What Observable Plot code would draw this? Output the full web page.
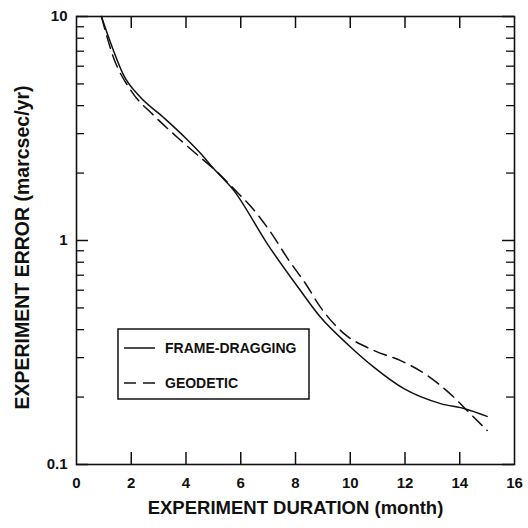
<!DOCTYPE html>
<html>
<head>
<meta charset="utf-8">
<script src="https://cdn.jsdelivr.net/npm/d3@7"></script>
<script src="https://cdn.jsdelivr.net/npm/@observablehq/plot@0.6"></script>
<style>
  html, body { margin: 0; padding: 0; background: #fff; }
  #wrap { position: relative; width: 528px; height: 528px; font-family: "Liberation Sans", Arial, Helvetica, sans-serif; }
  #legend { position: absolute; left: 117px; top: 328px; }
</style>
</head>
<body>
<div id="wrap"></div>
<script>
// Frame-dragging (solid)
const frameMonths = [0.91, 1.34, 1.71, 2.31, 3.17, 4.02, 4.53, 5.0, 5.75, 6.97, 8.18, 8.91, 9.95, 10.86, 11.96, 13.3, 14.21, 15.0];
const frameError  = [10, 7.1, 5.5, 4.39, 3.55, 2.84, 2.45, 2.1, 1.67, 0.966, 0.598, 0.455, 0.34, 0.272, 0.218, 0.187, 0.177, 0.164];
// Geodetic (dashed)
const geoMonths = [0.91, 1.34, 2.01, 2.80, 3.71, 4.63, 5.05, 5.75, 6.54, 7.09, 7.76, 8.37, 8.91, 9.71, 10.86, 11.84, 12.81, 13.3, 13.78, 14.21, 15.0];
const geoError  = [10, 6.62, 4.63, 3.64, 2.87, 2.29, 2.07, 1.70, 1.34, 1.09, 0.815, 0.641, 0.504, 0.39, 0.323, 0.291, 0.250, 0.225, 0.200, 0.177, 0.142];

const xTickValues = [0, 2, 4, 6, 8, 10, 12, 14, 16];
const xInnerTicks = [2, 4, 6, 8, 10, 12, 14];
const yMajorTicks = [0.1, 1, 10];
const yMinorTicks = [0.2, 0.3, 0.4, 0.5, 0.6, 0.7, 0.8, 0.9, 2, 3, 4, 5, 6, 7, 8, 9];

const seriesNames = ["FRAME-DRAGGING", "GEODETIC"];
const xLabel = "EXPERIMENT DURATION (month)";
const yLabel = "EXPERIMENT ERROR (marcsec/yr)";

const frameData = frameMonths.map((m, i) => ({month: m, err: frameError[i]}));
const geoData = geoMonths.map((m, i) => ({month: m, err: geoError[i]}));

const W = 528, H = 528;
const mL = 76, mR = 14, mT = 16, mB = 64;
const pw = W - mL - mR, ph = H - mT - mB;

const chart = Plot.plot({
  width: W, height: H,
  marginLeft: mL, marginRight: mR, marginTop: mT, marginBottom: mB,
  style: {fontFamily: '"Liberation Sans", Arial, Helvetica, sans-serif', fontSize: "15px", fontWeight: "bold", color: "#111", background: "#fff"},
  x: {domain: [0, 16]},
  y: {type: "log", domain: [0.1, 10]},
  marks: [
    Plot.axisX({ticks: xTickValues, tickSize: 0, tickPadding: 13, label: null, tickFormat: d => String(d), fontSize: 15}),
    Plot.axisY({ticks: yMajorTicks, tickSize: 0, tickPadding: 9, label: null, tickFormat: d => String(d), fontSize: 15}),
    // inward ticks
    Plot.tickX(xInnerTicks, {x: d => d, insetTop: ph - 12, stroke: "#111", strokeWidth: 1.5}),
    Plot.tickX(xInnerTicks, {x: d => d, insetBottom: ph - 12, stroke: "#111", strokeWidth: 1.5}),
    Plot.tickY(yMajorTicks, {y: d => d, insetRight: pw - 12, stroke: "#111", strokeWidth: 1.5}),
    Plot.tickY(yMinorTicks, {y: d => d, insetRight: pw - 8, stroke: "#111", strokeWidth: 1.3}),
    Plot.tickY(yMajorTicks, {y: d => d, insetLeft: pw - 12, stroke: "#111", strokeWidth: 1.5}),
    Plot.tickY(yMinorTicks, {y: d => d, insetLeft: pw - 8, stroke: "#111", strokeWidth: 1.3}),
    Plot.frame({stroke: "#111", strokeWidth: 1.6}),
    Plot.line(frameData, {x: "month", y: "err", curve: "monotone-x", stroke: "#111", strokeWidth: 1.5}),
    Plot.line(geoData, {x: "month", y: "err", curve: "monotone-x", stroke: "#111", strokeWidth: 1.5, strokeDasharray: "13,7"}),
    Plot.text([xLabel], {text: d => d, frameAnchor: "bottom", dy: 49, fontSize: 18.5, fontWeight: "bold", fill: "#111"}),
    Plot.text([yLabel], {text: d => d, frameAnchor: "left", textAnchor: "middle", lineAnchor: "middle", dx: -54, dy: 7, rotate: -90, fontSize: 19.5, fontWeight: "bold", fill: "#111"})
  ]
});

const wrap = document.getElementById("wrap");
wrap.appendChild(chart);

// Legend overlay
const ns = "http://www.w3.org/2000/svg";
const lg = document.createElementNS(ns, "svg");
lg.setAttribute("id", "legend");
lg.setAttribute("width", 194);
lg.setAttribute("height", 73);
const styles = [{dash: null}, {dash: "12,7"}];
lg.innerHTML = `<rect x="1" y="1" width="191" height="70" fill="#fff" stroke="#111" stroke-width="1.5"/>` +
  seriesNames.map((name, i) => {
    const y = 20 + i * 35;
    return `<line x1="7" x2="38" y1="${y}" y2="${y}" stroke="#111" stroke-width="1.5" ${styles[i].dash ? `stroke-dasharray="${styles[i].dash}"` : ""}/>` +
      `<text x="48" y="${y}" dy="0.35em" font-family='"Liberation Sans", Arial, sans-serif' font-size="14" font-weight="bold" fill="#111">${name}</text>`;
  }).join("");
wrap.appendChild(lg);
</script>
</body>
</html>
